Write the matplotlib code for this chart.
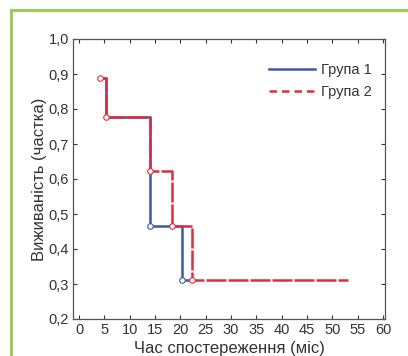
import matplotlib
matplotlib.use("Agg")
import matplotlib.pyplot as plt
from matplotlib.patches import Rectangle
from matplotlib.lines import Line2D
from matplotlib import font_manager

# Data (Kaplan-Meier style step curves)
g1_time = [4.1, 5.3, 14.1, 20.3, 22.2]
g1_surv = [0.889, 0.778, 0.467, 0.311, 0.311]
g1_mark_t = [14.1, 20.3]
g1_mark_s = [0.467, 0.311]

g2_time = [4.1, 5.3, 14.1, 18.3, 22.2, 53.1]
g2_surv = [0.889, 0.778, 0.622, 0.467, 0.311, 0.311]
g2_mark_t = [4.1, 5.3, 14.1, 18.3, 22.2]
g2_mark_s = [0.889, 0.778, 0.622, 0.467, 0.311]

labels = ["Група 1", "Група 2"]
xticks = list(range(0, 61, 5))
yticks = [0.2, 0.3, 0.4, 0.5, 0.6, 0.7, 0.8, 0.9, 1.0]
ytick_labels = ["0,2", "0,3", "0,4", "0,5", "0,6", "0,7", "0,8", "0,9", "1,0"]

avail = {f.name for f in font_manager.fontManager.ttflist}
fam = [f for f in ["Liberation Sans Narrow", "Liberation Sans"] if f in avail] + ["DejaVu Sans"]
plt.rcParams['font.family'] = fam

W, H = 408, 356
fig = plt.figure(figsize=(W / 100, H / 100), dpi=100)
fig.patch.set_facecolor("white")

# green frame
fig.patches.append(Rectangle((11 / W, -0.1), 1.2, 1 - 10 / H + 0.1, transform=fig.transFigure,
                             fill=False, edgecolor="#9ccb5a", linewidth=2.2))

ax = fig.add_axes([73 / W, 1 - 319 / H, (385 - 73) / W, (319 - 39) / H])

blue = "#3d5a9e"
red = "#d9303f"

ax.step(g1_time, g1_surv, where="post", color=blue, lw=1.8, zorder=2)
ax.step(g2_time, g2_surv, where="post", color=red, lw=1.8, ls=(0, (8, 0.8)), zorder=3)
ax.plot(g1_mark_t, g1_mark_s, "o", ms=4, mfc="white", mec=blue, mew=0.8, zorder=4)
ax.plot(g2_mark_t, g2_mark_s, "o", ms=4, mfc="white", mec=red, mew=0.8, zorder=4)

ax.set_xlim(-1.2, 60.4)
ax.set_ylim(0.2, 1.0)
ax.set_xticks(xticks)
ax.set_xticklabels([str(t) for t in xticks])
ax.set_yticks(yticks)
ax.set_yticklabels(ytick_labels)
ax.tick_params(direction="in", length=3, width=0.8, labelsize=10.5, colors="#333333",
               top=True, right=True, pad=3)
for s in ax.spines.values():
    s.set_color("#555555")
    s.set_linewidth(0.9)

ax.set_xlabel("Час спостереження (міс)", fontsize=12, color="#333333", labelpad=3)
ax.set_ylabel("Виживаність (частка)", fontsize=12, color="#333333", labelpad=1)

handles = [Line2D([], [], color=blue, lw=1.8),
           Line2D([], [], color=red, lw=1.8, ls=(0, (3, 2)))]
leg = ax.legend(handles, labels, loc="upper right", frameon=False, fontsize=10.5, handlelength=3.2,
                bbox_to_anchor=(1.0, 0.96), labelspacing=0.55, handletextpad=0.4)
for t in leg.get_texts():
    t.set_color("#333333")

fig.savefig("out.png", dpi=100, facecolor="white")
